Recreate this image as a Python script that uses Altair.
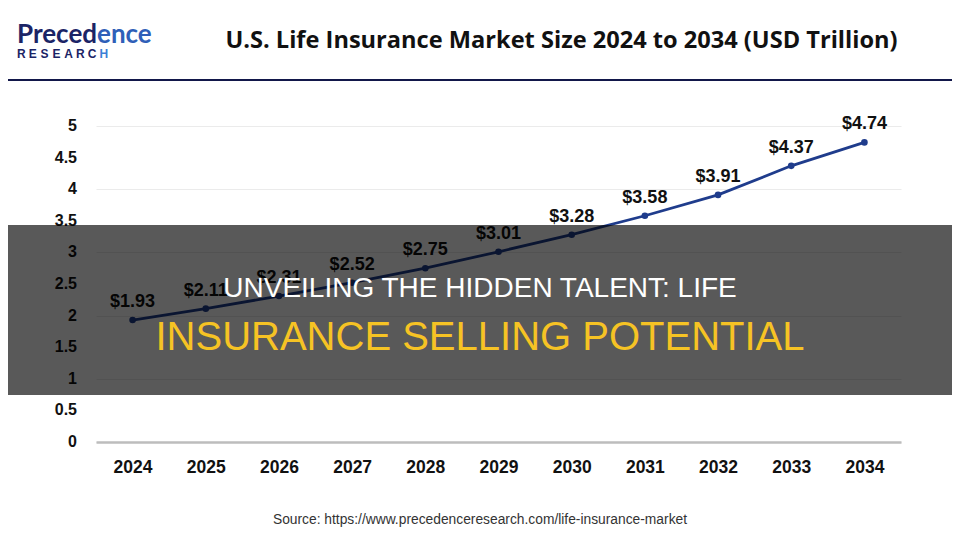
import altair as alt
import pandas as pd

years = ["2024", "2025", "2026", "2027", "2028", "2029", "2030", "2031", "2032", "2033", "2034"]
values = [1.93, 2.11, 2.31, 2.52, 2.75, 3.01, 3.28, 3.58, 3.91, 4.37, 4.74]
labels = ["$1.93", "$2.11", "$2.31", "$2.52", "$2.75", "$3.01", "$3.28", "$3.58", "$3.91", "$4.37", "$4.74"]
y_ticks = [0, 0.5, 1, 1.5, 2, 2.5, 3, 3.5, 4, 4.5, 5]
y_tick_labels = ["0", "0.5", "1", "1.5", "2", "2.5", "3", "3.5", "4", "4.5", "5"]

chart_title = "U.S. Life Insurance Market Size 2024 to 2034 (USD Trillion)"
overlay_line1 = "UNVEILING THE HIDDEN TALENT: LIFE"
overlay_line2 = "INSURANCE SELLING POTENTIAL"
source_text = "Source: https://www.precedenceresearch.com/life-insurance-market"
logo_top_a = "Preced"
logo_top_b = "ence"
logo_letters = ["R", "E", "S", "E", "A", "R", "C", "H"]

df = pd.DataFrame({"year": years, "value": values, "label": labels})
ydf = pd.DataFrame({"v": y_ticks, "t": y_tick_labels})
one = pd.DataFrame({"k": [0]})

FONT = "Liberation Sans, Arial, sans-serif"
LINE_COLOR = "#1f3c8c"

x_enc = alt.X("year:O", scale=alt.Scale(type="point", padding=0.5),
              axis=alt.Axis(title=None, labelAngle=0, labelFont=FONT, labelFontSize=17.5,
                            labelFontWeight="bold", labelColor="#111111", ticks=False, tickSize=0,
                            labelPadding=25, labelBaseline="middle", domain=True,
                            domainColor="#bdbdbd", domainWidth=2.5, grid=False))
y_scale = alt.Scale(domain=[0, 5], nice=False, zero=True)
y_enc = alt.Y("value:Q", scale=y_scale,
              axis=alt.Axis(title=None, values=y_ticks, labels=False,
                            ticks=False, tickSize=0, domain=False,
                            grid=True, gridColor="#ebebeb", gridWidth=1))

base = alt.Chart(df)
line = base.mark_line(color=LINE_COLOR, strokeWidth=2.8).encode(x=x_enc, y=y_enc)
pts = base.mark_circle(color=LINE_COLOR, size=44, opacity=1).encode(x="year:O", y="value:Q")
txt = base.mark_text(font=FONT, fontSize=18, fontWeight="bold", color="#111111",
                     dy=-18, baseline="middle").encode(x="year:O", y="value:Q", text="label:N")

ylab = alt.Chart(ydf).mark_text(font=FONT, fontSize=16, fontWeight="bold", color="#111111",
                                align="right", baseline="middle").encode(
    x=alt.value(-19), y=alt.Y("v:Q", scale=y_scale), text="t:N")

deco = alt.Chart(one)
header_rule = deco.mark_rule(color="#12174a", strokeWidth=2.2).encode(
    x=alt.value(-88), x2=alt.value(856), y=alt.value(-46))
title_t = deco.mark_text(font="Open Sans, sans-serif", fontSize=23.6, fontWeight="bold",
                         color="#111111", align="center", baseline="alphabetic").encode(
    x=alt.value(465.5), y=alt.value(-78), text=alt.value(chart_title))
logo_a = deco.mark_text(font="Lato, sans-serif", fontSize=26, fontWeight="bold",
                        color="#1b2466", align="left", baseline="alphabetic").encode(
    x=alt.value(-79), y=alt.value(-83), text=alt.value(logo_top_a))
logo_b = deco.mark_text(font="Lato, sans-serif", fontSize=26, fontWeight="bold",
                        color="#2f5fb8", align="left", baseline="alphabetic").encode(
    x=alt.value(-79 + 80), y=alt.value(-83), text=alt.value(logo_top_b))

letter_marks = []
for i, ch in enumerate(logo_letters):
    col = "#3b7fd6" if i == len(logo_letters) - 1 else "#1b2466"
    letter_marks.append(
        deco.mark_text(font=FONT, fontSize=12, fontWeight="bold", color=col,
                       align="left", baseline="alphabetic").encode(
            x=alt.value(-79 + i * 11.8), y=alt.value(-68), text=alt.value(ch)))

source_t = deco.mark_text(font=FONT, fontSize=13.8, color="#333333", align="center",
                          baseline="alphabetic").encode(
    x=alt.value(384), y=alt.value(398), text=alt.value(source_text))
band = deco.mark_rect(color="#000000", opacity=0.65).encode(
    x=alt.value(-88), x2=alt.value(856), y=alt.value(99), y2=alt.value(269))
ov1 = deco.mark_text(font=FONT, fontSize=28, color="#ffffff", align="center",
                     baseline="alphabetic").encode(
    x=alt.value(384), y=alt.value(171), text=alt.value(overlay_line1))
ov2 = deco.mark_text(font=FONT, fontSize=40, color="#f6c324", align="center",
                     baseline="alphabetic").encode(
    x=alt.value(384), y=alt.value(224), text=alt.value(overlay_line2))

chart = alt.layer(line, pts, txt, ylab, header_rule, title_t, logo_a, logo_b, *letter_marks,
                  source_t, band, ov1, ov2).properties(
    width=805, height=316,
    autosize=alt.AutoSizeParams(type="none"),
    padding={"left": 88, "top": 118, "right": 51, "bottom": 90},
    background="#ffffff",
).configure_view(strokeWidth=0)

chart.save("out.html", embed_options={"renderer": "svg", "actions": False})
